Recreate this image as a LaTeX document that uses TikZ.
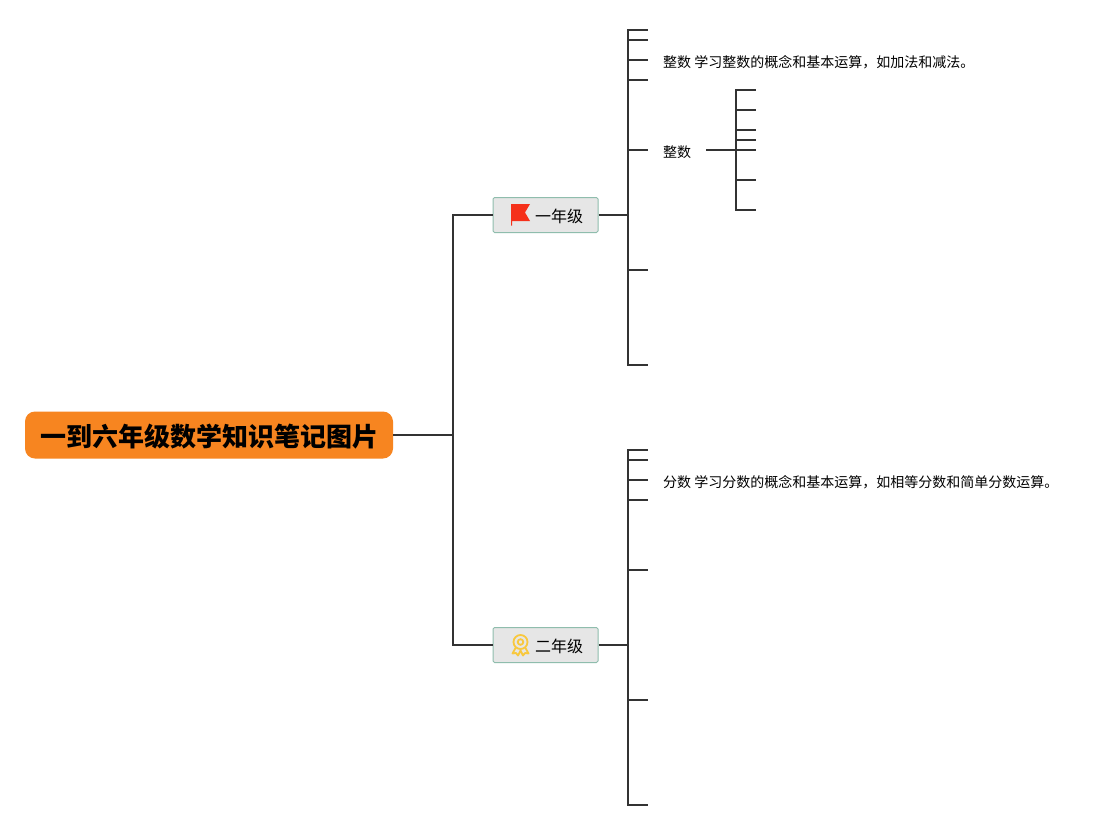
\documentclass[tikz,border=0pt]{standalone}
\usepackage{fontspec}
\setmainfont{Noto Sans CJK SC}
\definecolor{linec}{HTML}{333333}
\definecolor{rootc}{HTML}{F78520}
\definecolor{boxc}{HTML}{E6E6E6}
\definecolor{boxb}{HTML}{8FBDAD}
\definecolor{flagc}{HTML}{F5301A}
\definecolor{medalc}{HTML}{F8C83E}
\tikzset{
  x=1pt,y=-1pt,
  conn/.style={draw=linec,line width=1.9pt},
  rootbox/.style={fill=rootc,rounded corners=10pt,minimum width=368pt,minimum height=47pt,inner sep=0},
  roottext/.style={font=\fontsize{26}{30}\selectfont\bfseries,text=black,inner sep=0},
  gradebox/.style={fill=boxc,draw=boxb,line width=1pt,rounded corners=1.5pt,minimum width=105pt,minimum height=35pt,inner sep=0},
  gradetext/.style={font=\fontsize{16}{20}\selectfont,text=black,inner sep=0,anchor=west},
  leaftext/.style={font=\fontsize{14}{18}\selectfont,text=black,inner sep=0,anchor=west},
}
\begin{document}
\begin{tikzpicture}
\useasboundingbox (0,0) rectangle (1119,830);
\fill[white] (0,0) rectangle (1119,830);

\node[rootbox] (root) at (209,435) {};
\node[roottext] (roott) at (209,437) {一到六年级数学知识笔记图片};
\node[gradebox] (g1) at (545.5,215) {};
\node[gradebox] (g2) at (545.5,645) {};
\node[gradetext] (g1t) at (535,216.5) {一年级};
\node[gradetext] (g2t) at (535,646.5) {二年级};
\node[leaftext] (l1) at (663,62) {整数 学习整数的概念和基本运算，如加法和减法。};
\node[leaftext] (l2) at (663,152) {整数};
\node[leaftext] (l3) at (663,482) {分数 学习分数的概念和基本运算，如相等分数和简单分数运算。};

% flag
\fill[flagc] (511,204) -- (530,204) -- (525,212.5) -- (530,221) -- (512,221) -- (512,225.5) -- (511,225.5) -- cycle;
% medal
\begin{scope}[draw=medalc,line width=1.8pt]
\draw (520.5,642) circle[radius=7];
\draw (520.5,642) circle[radius=2.8];
\draw[line join=round] (515.5,648) -- (512.5,653.5) -- (516,653) -- (518,655.5) -- (520.5,650.5) -- (523,655.5) -- (525,653) -- (528.5,653.5) -- (525.5,648);
\end{scope}

% junctions and free ends
\coordinate (j0) at (453,435);
\coordinate (s1) at (628,215);
\coordinate (s2) at (628,645);
\coordinate (s3a) at (706,150);
\coordinate (s3) at (736,150);
\foreach \n/\y in {a/30,b/40,c/60,d/80,e/150,f/270,g/365}{\coordinate (t1\n) at (648,\y);}
\foreach \n/\y in {a/450,b/460,c/480,d/500,e/570,f/700,g/805}{\coordinate (t2\n) at (648,\y);}
\foreach \n/\y in {a/90,b/110,c/130,d/140,e/150,f/180,g/210}{\coordinate (t3\n) at (756,\y);}

\draw[conn] (root.east) -- (j0);
\draw[conn] (j0) |- (g1.west);
\draw[conn] (j0) |- (g2.west);
\draw[conn] (g1.east) -- (s1);
\draw[conn] (g2.east) -- (s2);
\draw[conn] (s3a) -- (s3);
\foreach \n in {a,b,c,d,e,f,g}{
  \draw[conn] (s1) |- (t1\n);
  \draw[conn] (s2) |- (t2\n);
  \draw[conn] (s3) |- (t3\n);
}
\end{tikzpicture}
\end{document}
